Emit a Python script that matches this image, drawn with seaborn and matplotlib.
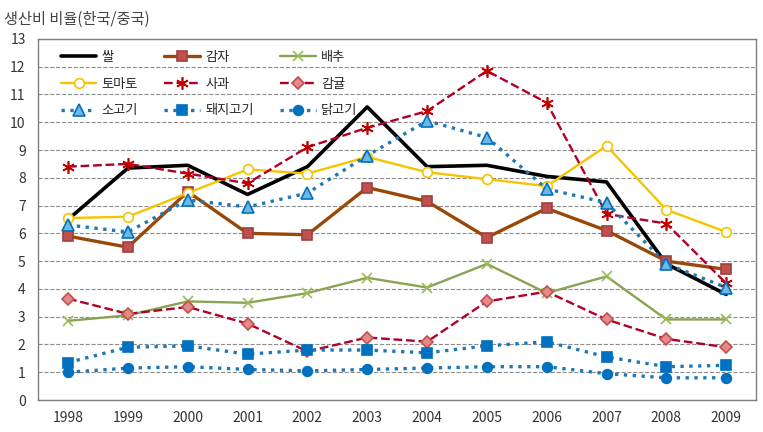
import numpy as np
import pandas as pd
import seaborn as sns
import matplotlib.pyplot as plt
from matplotlib.ticker import FixedLocator

# 연도
years = ['1998', '1999', '2000', '2001', '2002', '2003',
         '2004', '2005', '2006', '2007', '2008', '2009']

# 품목별 생산비 비율 (한국/중국)
rice = [6.5, 8.35, 8.45, 7.4, 8.4, 10.55, 8.4, 8.45, 8.05, 7.85, 4.9, 3.8]
potato = [5.9, 5.5, 7.5, 6.0, 5.95, 7.65, 7.15, 5.85, 6.9, 6.1, 5.0, 4.7]
cabbage = [2.85, 3.05, 3.55, 3.5, 3.85, 4.4, 4.05, 4.9, 3.85, 4.45, 2.9, 2.9]
tomato = [6.55, 6.6, 7.45, 8.3, 8.15, 8.75, 8.2, 7.95, 7.7, 9.15, 6.85, 6.05]
apple = [8.4, 8.5, 8.15, 7.8, 9.1, 9.8, 10.4, 11.85, 10.7, 6.7, 6.35, 4.2]
tangerine = [3.65, 3.1, 3.35, 2.75, 1.75, 2.25, 2.1, 3.55, 3.9, 2.9, 2.2, 1.9]
beef = [6.3, 6.05, 7.2, 6.95, 7.45, 8.8, 10.05, 9.45, 7.6, 7.1, 4.9, 4.05]
pork = [1.35, 1.9, 1.95, 1.65, 1.8, 1.8, 1.7, 1.95, 2.1, 1.55, 1.2, 1.25]
chicken = [1.0, 1.15, 1.2, 1.1, 1.05, 1.1, 1.15, 1.2, 1.2, 0.95, 0.8, 0.8]

series = {
    '쌀': rice, '감자': potato, '배추': cabbage,
    '토마토': tomato, '사과': apple, '감귤': tangerine,
    '소고기': beef, '돼지고기': pork, '닭고기': chicken,
}

# 스타일 (선 색, 선 모양, 마커, 마커 면색, 마커 테두리색)
styles = {
    '쌀': dict(color='black', ls='-', lw=2.6, marker=None, mfc=None, mec=None, ms=0),
    '감자': dict(color='#984807', ls='-', lw=2.4, marker='s', mfc='#C0504D', mec='#A0403D', ms=7),
    '배추': dict(color='#8AA352', ls='-', lw=1.7, marker='x', mfc='#9BBB59', mec='#9BBB59', ms=7),
    '토마토': dict(color='#F5C400', ls='-', lw=1.7, marker='o', mfc='white', mec='#F5C400', ms=7),
    '사과': dict(color='#B0002A', ls='--', lw=1.7, marker=(6, 2, 0), mfc='#C00000', mec='#C00000', ms=9),
    '감귤': dict(color='#B0002A', ls='--', lw=1.7, marker='D', mfc='#E6898A', mec='#C0504D', ms=6),
    '소고기': dict(color='#1F78B4', ls=':', lw=2.4, marker='^', mfc='#6CB8E0', mec='#0070C0', ms=8),
    '돼지고기': dict(color='#1F78B4', ls=':', lw=2.4, marker='s', mfc='#0070C0', mec='#0070C0', ms=7),
    '닭고기': dict(color='#1F78B4', ls=':', lw=2.4, marker='o', mfc='#0070C0', mec='#0070C0', ms=7),
}

rows = []
for name, vals in series.items():
    for i, v in enumerate(vals):
        rows.append({'item': name, 'idx': i, 'value': v})
df = pd.DataFrame(rows)

sns.set_style('white')
plt.rcParams['font.family'] = ['Noto Sans CJK KR', 'DejaVu Sans']

fig = plt.figure(figsize=(7.63, 4.32), dpi=100)
ax = fig.add_axes([0.05, 0.074, 0.941, 0.836])

for name in series:
    st = styles[name]
    sub = df[df['item'] == name]
    sns.lineplot(data=sub, x='idx', y='value', ax=ax, label=name,
                 color=st['color'], linestyle=st['ls'], linewidth=st['lw'],
                 marker=st['marker'], markersize=st['ms'],
                 markerfacecolor=st['mfc'], markeredgecolor=st['mec'],
                 markeredgewidth=1.2, sort=False)

ax.set_xlim(-0.5, 11.5)
ax.set_ylim(0, 13)
ax.set_yticks(range(0, 14))
ax.set_xticks(range(12))
ax.set_xticklabels(years)
ax.xaxis.set_minor_locator(FixedLocator(np.arange(-0.5, 12, 1)))
ax.tick_params(axis='x', which='major', length=0, pad=8, labelsize=10, colors='#333333')
ax.tick_params(axis='x', which='minor', length=5, direction='out', color='#808080')
ax.tick_params(axis='y', length=5, direction='out', color='#808080', labelsize=10, colors='#333333', pad=4)
ax.yaxis.grid(True, linestyle='--', color='#8C8C8C', linewidth=0.8)
ax.set_axisbelow(True)
for sp in ax.spines.values():
    sp.set_color('#7F7F7F')
    sp.set_linewidth(1.0)
ax.set_xlabel('')
ax.set_ylabel('')

fig.text(0.005, 0.975, '생산비 비율(한국/중국)', fontsize=11, va='top', ha='left', color='#444444')

# 범례: 행 단위 배치가 되도록 순서 재정렬
handles, labels = ax.get_legend_handles_labels()
order = ['쌀', '토마토', '소고기', '감자', '사과', '돼지고기', '배추', '감귤', '닭고기']
hmap = dict(zip(labels, handles))
ax.legend([hmap[k] for k in order], order, loc='upper left',
          bbox_to_anchor=(0.015, 1.0), ncol=3, frameon=False,
          fontsize=9.5, handlelength=2.7, columnspacing=2.0, labelspacing=1.05,
          handletextpad=0.4)

fig.savefig('out.png', dpi=100)
